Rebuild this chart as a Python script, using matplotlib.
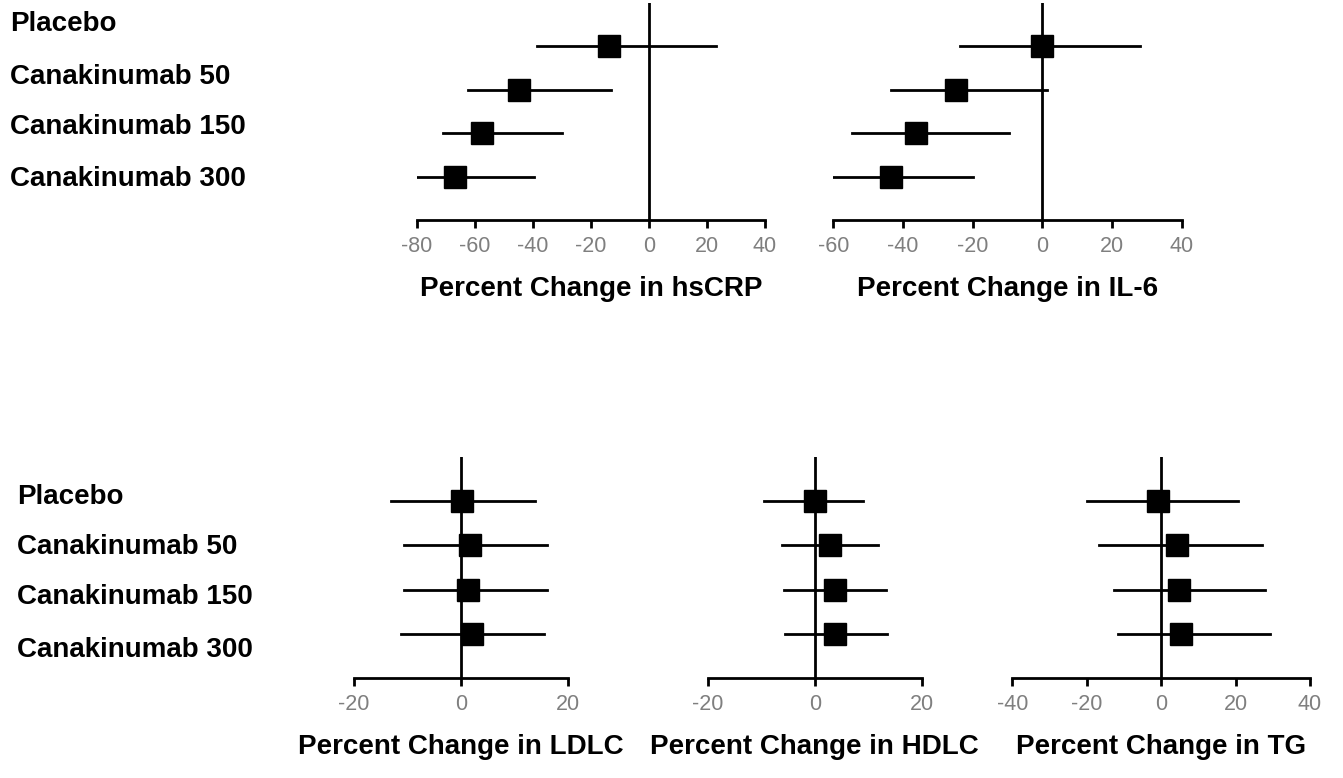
import matplotlib
matplotlib.use('Agg')
import matplotlib.pyplot as plt

plt.rcParams['font.family'] = ['Liberation Sans', 'DejaVu Sans']

# groups (top to bottom)
groups = ['Placebo', 'Canakinumab 50', 'Canakinumab 150', 'Canakinumab 300']

# percent change: point estimate, lower CI, upper CI
hscrp_est = [-13.6, -44.6, -57.5, -66.9]
hscrp_lo = [-38.6, -62.3, -71.1, -80.5]
hscrp_hi = [23.2, -12.9, -30.0, -39.5]

il6_est = [-0.2, -24.8, -36.3, -43.5]
il6_lo = [-23.5, -43.4, -54.6, -60.2]
il6_hi = [28.0, 1.3, -9.6, -19.8]

ldlc_est = [0.1, 1.6, 1.3, 2.0]
ldlc_lo = [-13.1, -10.6, -10.6, -11.2]
ldlc_hi = [13.7, 16.0, 16.0, 15.5]

hdlc_est = [0.1, 2.9, 3.8, 3.8]
hdlc_lo = [-9.5, -6.1, -5.8, -5.5]
hdlc_hi = [9.1, 11.8, 13.3, 13.5]

tg_est = [-0.9, 4.3, 4.7, 5.2]
tg_lo = [-20.0, -16.8, -12.7, -11.6]
tg_hi = [20.7, 27.1, 27.9, 29.2]

W, H = 1343, 778
fig = plt.figure(figsize=(W / 100, H / 100), dpi=100)


def forest(x0, x1, ytop, ybot, est, lo, hi, xlim, ticks, label):
    ax = fig.add_axes([x0 / W, 1 - ybot / H, (x1 - x0) / W, (ybot - ytop) / H])
    ypos = [4, 3, 2, 1]
    ax.axvline(0, color='black', lw=2, zorder=1)
    for y, e, l, h in zip(ypos, est, lo, hi):
        ax.plot([l, h], [y, y], color='black', lw=2, zorder=2)
        ax.plot(e, y, 's', color='black', ms=16, zorder=3)
    ax.set_xlim(xlim)
    ax.set_ylim(0, 5)
    ax.set_xticks(ticks)
    ax.set_xticklabels([str(t) for t in ticks])
    ax.set_yticks([])
    for s in ['top', 'left', 'right']:
        ax.spines[s].set_visible(False)
    ax.spines['bottom'].set_linewidth(2)
    ax.tick_params(axis='x', direction='out', length=6, width=2,
                   colors='black', labelcolor='#7f7f7f', labelsize=15.5, pad=5.5)
    ax.set_xlabel(label, fontsize=20, fontweight='bold', labelpad=13.5)
    ax.patch.set_alpha(0)
    return ax


forest(416.7, 765, 3, 220, hscrp_est, hscrp_lo, hscrp_hi, (-80, 40),
       [-80, -60, -40, -20, 0, 20, 40], 'Percent Change in hsCRP')
forest(833.3, 1181.7, 3, 220, il6_est, il6_lo, il6_hi, (-60, 40),
       [-60, -40, -20, 0, 20, 40], 'Percent Change in IL-6')
forest(354, 568.3, 456.7, 678.3, ldlc_est, ldlc_lo, ldlc_hi, (-20, 20),
       [-20, 0, 20], 'Percent Change in LDLC')
forest(707.7, 921.7, 456.7, 678.3, hdlc_est, hdlc_lo, hdlc_hi, (-20, 20),
       [-20, 0, 20], 'Percent Change in HDLC')
forest(1012.3, 1310, 456.7, 678.3, tg_est, tg_lo, tg_hi, (-40, 40),
       [-40, -20, 0, 20, 40], 'Percent Change in TG')

# group labels on the left
for g, y in zip(groups, [24, 77, 127, 179]):
    fig.text(10 / W, 1 - y / H, g, fontsize=20, fontweight='bold', va='center', ha='left')
for g, y in zip(groups, [497, 547, 597, 650]):
    fig.text(17 / W, 1 - y / H, g, fontsize=20, fontweight='bold', va='center', ha='left')

fig.savefig('out.png', dpi=100)
